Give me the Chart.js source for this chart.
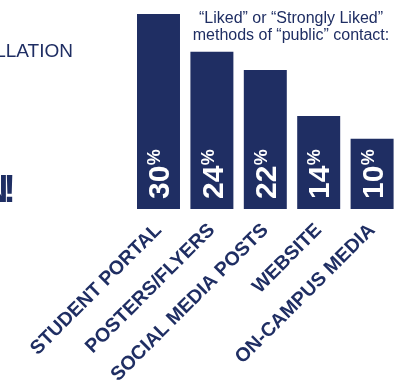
<!DOCTYPE html>
<html>
<head>
<meta charset="utf-8">
<script src="https://cdn.jsdelivr.net/npm/chart.js@4/dist/chart.umd.min.js"></script>
<style>
  html, body { margin: 0; padding: 0; background: #ffffff; overflow: hidden; width: 396px; height: 381px; }
  #wrap { position: absolute; left: 0; top: 0; width: 402px; height: 381px; }
  .txt { position: absolute; font-family: 'Liberation Sans', Arial, Helvetica, sans-serif; color: #1f2e63; white-space: nowrap; }
</style>
</head>
<body>
<div id="wrap"><canvas id="c" width="402" height="381"></canvas></div>
<div class="txt" id="left1" style="right:323px; top:40px; font-size:19px; line-height:22px;">INSTALLATION</div>
<div class="txt" id="left2" style="right:380px; top:167px; font-size:38px; font-weight:bold; line-height:44px;">N<span style="margin-left:-5px">!</span></div>
<div class="txt" id="title" style="left:188px; width:206px; top:9px; font-size:16px; line-height:17px; text-align:center;">“Liked” or “Strongly Liked”<br>methods of “public” contact:</div>
<script>
const categories = ["STUDENT PORTAL", "POSTERS/FLYERS", "SOCIAL MEDIA POSTS", "WEBSITE", "ON-CAMPUS MEDIA"];
const values = [30, 24.2, 21.4, 14.3, 10.8];
const valueLabels = ["30", "24", "22", "14", "10"];

const NAVY = '#1f2e63';

const inBarLabels = {
  id: 'inBarLabels',
  afterDatasetsDraw(chart) {
    const ctx = chart.ctx;
    const meta = chart.getDatasetMeta(0);
    meta.data.forEach((bar, i) => {
      ctx.save();
      ctx.translate(bar.x, bar.base - 10);
      ctx.rotate(-Math.PI / 2);
      ctx.fillStyle = '#ffffff';
      ctx.textAlign = 'left';
      ctx.textBaseline = 'alphabetic';
      ctx.font = "bold 30px 'Liberation Sans', Arial, sans-serif";
      const capH = 21.5;
      ctx.fillText(valueLabels[i], 0, capH / 2);
      const w = ctx.measureText(valueLabels[i]).width;
      ctx.font = "bold 18px 'Liberation Sans', Arial, sans-serif";
      ctx.textBaseline = 'top';
      ctx.fillText('%', w + 0.5, -capH / 2 - 1.5);
      ctx.restore();
    });
  }
};

new Chart(document.getElementById('c'), {
  type: 'bar',
  data: {
    labels: categories,
    datasets: [{
      data: values,
      backgroundColor: NAVY,
      borderWidth: 0,
      categoryPercentage: 1.0,
      barPercentage: 0.805
    }]
  },
  options: {
    responsive: false,
    animation: false,
    layout: { padding: { left: 131.8, right: 3.2, top: 14, bottom: 0 } },
    plugins: { legend: { display: false }, tooltip: { enabled: false } },
    scales: {
      x: {
        grid: { display: false, drawTicks: false },
        border: { display: false },
        ticks: {
          autoSkip: false,
          minRotation: 45,
          maxRotation: 45,
          padding: 10,
          color: NAVY,
          font: { family: "'Liberation Sans', Arial, sans-serif", size: 19.5, weight: 'bold' }
        },
        afterFit(scale) { scale.height = 172; }
      },
      y: {
        display: false,
        min: 0,
        max: 30
      }
    }
  },
  plugins: [inBarLabels]
});
</script>
</body>
</html>
